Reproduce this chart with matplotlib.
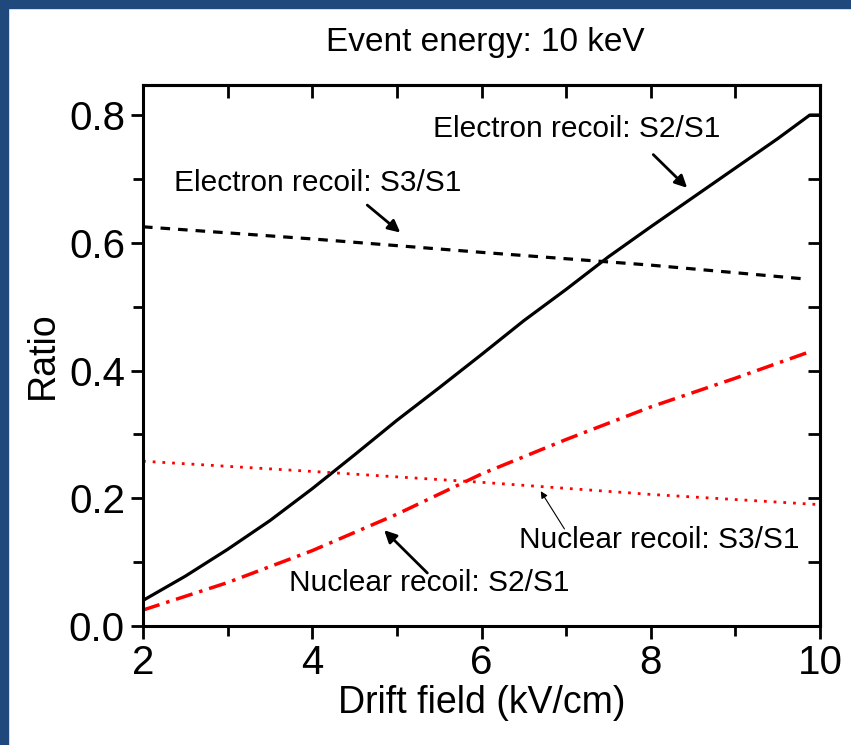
import numpy as np
import matplotlib.pyplot as plt
from matplotlib.patches import Rectangle
from matplotlib.ticker import MultipleLocator

plt.rcParams['font.family'] = ['Liberation Sans', 'DejaVu Sans']

# Electron recoil S2/S1 (solid black)
er_s2_x = [2.0, 2.5, 3.0, 3.5, 4.0, 4.5, 5.0, 5.5, 6.0, 6.5, 7.0, 7.5, 8.0, 8.5, 9.0, 9.5, 9.88, 10.0]
er_s2_y = [0.040, 0.078, 0.120, 0.165, 0.215, 0.268, 0.322, 0.373, 0.425, 0.478, 0.527, 0.578, 0.625, 0.671, 0.717, 0.763, 0.800, 0.800]

# Electron recoil S3/S1 (dashed black)
er_s3_x = [2.0, 4.0, 6.0, 8.0, 9.85]
er_s3_y = [0.625, 0.606, 0.585, 0.565, 0.543]

# Nuclear recoil S2/S1 (dash-dot red)
nr_s2_x = [2.0, 3.0, 4.0, 5.0, 6.0, 7.0, 8.0, 9.0, 9.85]
nr_s2_y = [0.025, 0.068, 0.118, 0.175, 0.238, 0.292, 0.343, 0.388, 0.428]

# Nuclear recoil S3/S1 (dotted red)
nr_s3_x = [2.0, 4.0, 6.0, 8.0, 10.0]
nr_s3_y = [0.258, 0.242, 0.225, 0.206, 0.190]

fig = plt.figure(figsize=(8.51, 7.45), dpi=100)
ax = fig.add_axes([143 / 851, 1 - 626 / 745, (820 - 143) / 851, (626 - 85) / 745])

# blue frame on top and left
blue = '#1f497d'
fig.patches.append(Rectangle((0, 1 - 8 / 745), 1, 8 / 745, transform=fig.transFigure, color=blue, zorder=0))
fig.patches.append(Rectangle((0, 0), 8 / 851, 1, transform=fig.transFigure, color=blue, zorder=0))

ax.plot(er_s2_x, er_s2_y, color='black', lw=2.3, ls='-')
ax.plot(er_s3_x, er_s3_y, color='black', lw=2.3, ls=(0, (3, 2.5)))
ax.plot(nr_s2_x, nr_s2_y, color='red', lw=2.5, ls=(0, (5, 2, 1, 2)))
ax.plot(nr_s3_x, nr_s3_y, color='red', lw=2.0, ls=(0, (1, 2.5)))

ax.set_xlim(2, 10)
ax.set_ylim(0, 0.847)
ax.xaxis.set_major_locator(MultipleLocator(2))
ax.xaxis.set_minor_locator(MultipleLocator(1))
ax.yaxis.set_major_locator(MultipleLocator(0.2))
ax.yaxis.set_minor_locator(MultipleLocator(0.1))
ax.yaxis.set_major_formatter(plt.FormatStrFormatter('%.1f'))

for side in ['left', 'bottom', 'right', 'top']:
    ax.spines[side].set_linewidth(2.2)
ax.tick_params(which='both', direction='out', width=2, labelsize=29, pad=4, top=False, right=False)
ax.tick_params(which='major', length=9)
ax.tick_params(which='minor', length=7)

# inward ticks on top and right
sec_x = ax.secondary_xaxis('top')
sec_x.xaxis.set_major_locator(MultipleLocator(1))
sec_x.tick_params(direction='in', length=9, width=2, labeltop=False)
sec_x.spines['top'].set_linewidth(2.2)
sec_y = ax.secondary_yaxis('right')
sec_y.yaxis.set_major_locator(MultipleLocator(0.1))
sec_y.tick_params(direction='in', length=9, width=2, labelright=False)
sec_y.spines['right'].set_linewidth(2.2)

ax.set_xlabel('Drift field (kV/cm)', fontsize=27, labelpad=2)
ax.set_ylabel('Ratio', fontsize=27, labelpad=6)
fig.text(485 / 851, 1 - 42 / 745, 'Event energy: 10 keV', fontsize=24, ha='center', va='center')

arrow_thick = dict(arrowstyle='-|>', color='black', lw=2, mutation_scale=18, shrinkA=0, shrinkB=0)
arrow_thin = dict(arrowstyle='-|>', color='black', lw=0.8, mutation_scale=10, shrinkA=0, shrinkB=0)

ax.annotate('', xy=(8.43, 0.686), xytext=(8.03, 0.738), arrowprops=arrow_thick)
ax.text(7.12, 0.778, 'Electron recoil: S2/S1', fontsize=21.5, ha='center', va='center')

ax.annotate('', xy=(5.04, 0.616), xytext=(4.65, 0.659), arrowprops=arrow_thick)
ax.text(4.06, 0.693, 'Electron recoil: S3/S1', fontsize=21.5, ha='center', va='center')

ax.annotate('', xy=(6.70, 0.211), xytext=(6.98, 0.152), arrowprops=arrow_thin)
ax.text(8.10, 0.134, 'Nuclear recoil: S3/S1', fontsize=21.5, ha='center', va='center')

ax.annotate('', xy=(4.85, 0.150), xytext=(5.36, 0.083), arrowprops=arrow_thick)
ax.text(5.38, 0.068, 'Nuclear recoil: S2/S1', fontsize=21.5, ha='center', va='center')

fig.savefig('out.png', dpi=100)
